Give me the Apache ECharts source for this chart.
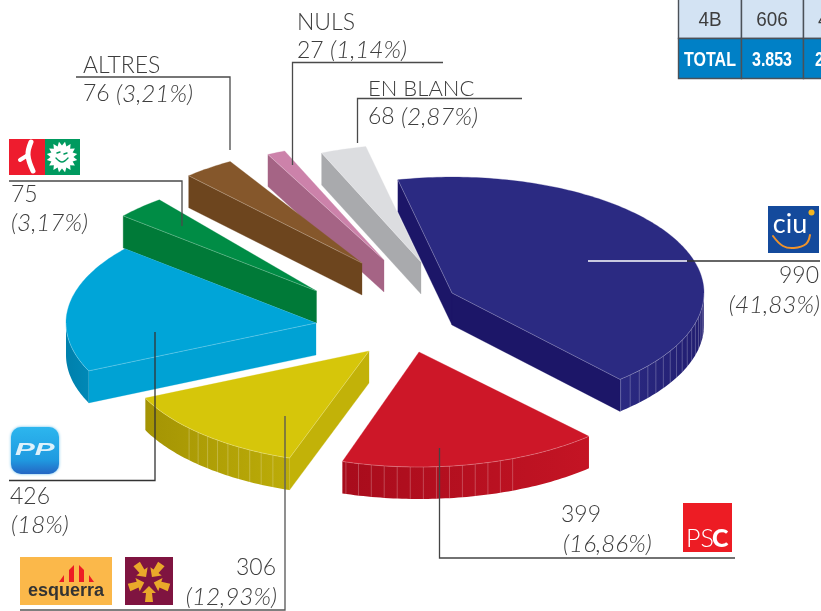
<!DOCTYPE html>
<html>
<head>
<meta charset="utf-8">
<style>
    html, body { margin: 0; padding: 0; background: #fff; overflow: hidden; }
    #chart { width: 821px; height: 611px; }
</style>
<script src="https://cdn.jsdelivr.net/npm/echarts@6/dist/echarts.min.js"></script>
</head>
<body>
<div id="chart"></div>
<script>
// data, clockwise from the CiU slice
const parties = ['CiU', 'PSC', 'ERC', 'PP', 'ICV', 'ALTRES', 'NULS', 'EN BLANC']
const votes = [990, 399, 306, 426, 75, 76, 27, 68]
const percents = ['41,83%', '16,86%', '12,93%', '18%', '3,17%', '3,21%', '1,14%', '2,87%']
const tableFirstRow = ['4B', '606', '4']
const tableTotalRow = ['TOTAL', '3.853', '2.367']

// colours per slice
const topColors = ['#2b2a82', '#cd1728', '#d6c60a', '#00a5d8', '#008c45', '#85572b', '#cc82aa', '#dcdde0']
const cutColors = ['#1c1668', '#b01020', '#c2b208', '#00a2d4', '#007a38', '#6d451e', '#a56485', '#a9aaad']
const rimFrom = ['#2b2a82', '#a80c1c', '#a49404', '#0080ac', '#007a38', '#6d451e', '#a56485', '#a9aaad']
const rimTo = ['#211d70', '#c41424', '#bcac08', '#0088b6', '#007a38', '#6d451e', '#a56485', '#a9aaad']

// pie geometry
const pieCenter = [400, 310]
const tilt = 0.46
const depth = 32
const startAngle = -12.4
const radii = [252, 250, 246, 250, 253, 257, 257, 257]
const explodeX = [52, 19, -31, -84, -83.5, -38, -16, 21]
const explodeY = [-17, 42, 41, 13, -19, -47, -50, -48]
const angleNudge = [0, -1, 0, 0, 0, -4, 0, 0]
const ribFrom = [90, 158, 200, 0, 0, 0, 0, 0]
const ribTo = [139, 200, 229, 0, 0, 0, 0, 0]
const drawOrder = [6, 7, 0, 5, 4, 3, 2, 1]

const total = votes.reduce((a, b) => a + b, 0)
const rad = d => d * Math.PI / 180

function sliceAngles(i) {
    const before = votes.slice(0, i).reduce((a, b) => a + b, 0)
    return {
        from: startAngle + before / total * 360 + angleNudge[i],
        to: startAngle + (before + votes[i]) / total * 360 + angleNudge[i]
    }
}

function arcPoint(apex, r, deg, drop) {
    return [apex[0] + Math.sin(rad(deg)) * r, apex[1] - Math.cos(rad(deg)) * r * tilt + (drop || 0)]
}

function arcPoints(apex, r, from, to, drop) {
    const n = Math.max(2, Math.ceil(Math.abs(to - from)))
    return Array.from({ length: n + 1 }, (item, k) => arcPoint(apex, r, from + (to - from) * k / n, drop))
}

const edgeLine = { stroke: 'rgba(255,255,255,0.35)', lineWidth: 0.7, fill: null }

function renderSlice(params, api) {
    const i = drawOrder[params.dataIndex]
    const { from, to } = sliceAngles(i)
    const r = radii[i]
    const apex = [pieCenter[0] + explodeX[i], pieCenter[1] + explodeY[i]]
    const low = [apex[0], apex[1] + depth]
    const children = []
    const poly = (points, fill) => children.push({
        type: 'polygon',
        shape: { points },
        style: { fill, stroke: fill === Object(fill) ? null : fill, lineWidth: 0.3 }
    })
    const line = points => children.push({ type: 'polyline', shape: { points }, style: edgeLine })

    // cut faces that look towards the viewer
    const cut = deg => {
        const a = arcPoint(apex, r, deg)
        poly([apex, a, [a[0], a[1] + depth], low], cutColors[i])
    }
    if (Math.sin(rad(from)) < 0) cut(from)
    if (Math.sin(rad(to)) > 0) cut(to)

    // outer rim, only where it faces front
    const rimA = Math.max(from, 90)
    const rimB = Math.min(to, 270)
    if (rimA < rimB) {
        const upper = arcPoints(apex, r, rimA, rimB)
        const lower = arcPoints(apex, r, rimA, rimB, depth).reverse()
        poly(upper.concat(lower), {
            type: 'linear', x: 1, y: 0, x2: 0, y2: 0,
            colorStops: [{ offset: 0, color: rimTo[i] }, { offset: 1, color: rimFrom[i] }]
        })
        for (let d = ribFrom[i]; d < ribTo[i]; d += 3) {
            if (d > rimA && d < rimB) {
                children.push({
                    type: 'line',
                    shape: {
                        x1: arcPoint(apex, r, d)[0], y1: arcPoint(apex, r, d)[1],
                        x2: arcPoint(apex, r, d)[0], y2: arcPoint(apex, r, d, depth)[1]
                    },
                    style: { stroke: 'rgba(255,255,255,0.3)', lineWidth: 0.8 }
                })
            }
        }
    }

    // top face
    poly([apex].concat(arcPoints(apex, r, from, to)), topColors[i])
    if (rimA < rimB) line(arcPoints(apex, r, rimA, rimB))
    if (Math.sin(rad(from)) < 0) line([apex, arcPoint(apex, r, from)])
    if (Math.sin(rad(to)) > 0) line([apex, arcPoint(apex, r, to)])

    return { type: 'group', children }
}

// --- graphic helpers ---
const ink = '#3d3d3d'
const font = 'Lato, "Open Sans", sans-serif'
const narrow = '"Liberation Sans", sans-serif'

function text(x, y, str, opt) {
    const o = opt || {}
    const size = o.size || (o.italic ? 24.3 : 23)
    return {
        type: 'text',
        x, y,
        z: 20,
        scaleX: o.scaleX || 1,
        style: {
            text: str,
            fill: o.fill || ink,
            font: `${o.italic ? 'italic ' : ''}${o.weight || 300} ${size}px ${o.family || font}`,
            align: o.align || 'left',
            verticalAlign: 'middle'
        }
    }
}

function rule(points, color) {
    return {
        type: 'polyline',
        z: 15,
        shape: { points },
        style: { stroke: color || '#4a4a4a', lineWidth: 1.3, fill: null }
    }
}

function box(x, y, width, height, fill, stroke, r) {
    return {
        type: 'rect',
        z: 12,
        shape: { x, y, width, height, r: r || 0 },
        style: { fill, stroke: stroke || null, lineWidth: 1.4 }
    }
}

function shape(points, fill) {
    return { type: 'polygon', z: 13, shape: { points }, style: { fill } }
}

function stroke(points, color, width) {
    return {
        type: 'polyline',
        z: 13,
        shape: { points, smooth: 0.4 },
        style: { stroke: color, lineWidth: width, fill: null, lineCap: 'round' }
    }
}

function sunLogo(cx, cy) {
    const pts = []
    for (let k = 0; k < 32; k++) {
        const r = k % 2 ? 15.5 : 11.5
        pts.push([cx + Math.cos(k * Math.PI / 16) * r, cy + Math.sin(k * Math.PI / 16) * r])
    }
    return [
        shape(pts, '#fff'),
        stroke([[cx - 6, cy + 1], [cx, cy + 5], [cx + 6, cy + 1]], '#009a5f', 1.4),
        stroke([[cx - 5, cy - 4], [cx - 2, cy - 5]], '#009a5f', 1.4),
        stroke([[cx + 2, cy - 3], [cx + 5, cy - 4]], '#009a5f', 1.4)
    ]
}

function starLogo(cx, cy) {
    // five little arrows around the middle of the square
    const out = []
    const turns = [-36, 36, 108, 180, 252]
    turns.forEach(deg => {
        const a = rad(deg)
        const at = (along, side) => [
            cx + Math.sin(a) * along + Math.cos(a) * side,
            cy - Math.cos(a) * along + Math.sin(a) * side
        ]
        out.push(shape([
            at(5, 0), at(12, -7), at(12, -3), at(21, -4), at(21, 4), at(12, 3), at(12, 7)
        ], '#e9a82a'))
    })
    return out
}

function tableCells() {
    const xs = [678.5, 741.5, 803.5, 866]
    const out = []
    xs.slice(0, 3).forEach((x, c) => {
        const w = xs[c + 1] - x
        out.push(box(x, -2, w, 40.5, '#d3e3f3', '#4b5158'))
        out.push(box(x, 38.5, w, 40, '#0080c6', '#4b5158'))
    })
    const mids = [710, 772, 835]
    tableFirstRow.forEach((t, c) => {
        const left = c === 2
        out.push(text(left ? 818 : mids[c], 20.5, t, {
            align: left ? 'left' : 'center', size: 21, family: narrow, weight: 400, scaleX: 0.9
        }))
    })
    tableTotalRow.forEach((t, c) => {
        out.push(text(mids[c], 60, t, {
            align: 'center', size: 20, family: narrow, weight: 700, fill: '#fff', scaleX: 0.8
        }))
    })
    return out
}

// index by party so the labels stay tied to the arrays
const at = name => parties.indexOf(name)
const amount = name => String(votes[at(name)])
const share = name => `(${percents[at(name)]})`

const elements = [
    ...tableCells(),

    // NULS
    text(297, 23, parties[at('NULS')]),
    text(297, 50.5, amount('NULS')),
    text(330, 50.5, share('NULS'), { italic: true }),
    rule([[443, 62.5], [292.5, 62.5], [292.5, 165]]),

    // EN BLANC
    text(368, 88.5, parties[at('EN BLANC')], { size: 22 }),
    text(368, 117, amount('EN BLANC')),
    text(401, 117, share('EN BLANC'), { italic: true }),
    rule([[522, 98.5], [357.5, 98.5], [357.5, 143]]),

    // ALTRES
    text(83, 66, parties[at('ALTRES')]),
    text(83, 94, amount('ALTRES')),
    text(116, 94, share('ALTRES'), { italic: true }),
    rule([[76, 77], [230, 77], [230, 150]]),

    // ICV
    box(9, 139, 36, 36, '#ee1c2e'),
    box(45, 139, 35, 36, '#009a5f'),
    stroke([[31, 142], [28, 155], [33, 171]], '#fff', 5),
    stroke([[28, 155], [20, 160]], '#fff', 4),
    ...sunLogo(62, 157),
    rule([[9, 181], [182, 181], [182, 226]]),
    text(11, 195, amount('ICV')),
    text(11, 223, share('ICV'), { italic: true }),

    // PP
    {
        type: 'rect',
        z: 12,
        shape: { x: 11, y: 427, width: 48, height: 47, r: 10 },
        style: {
            fill: {
                type: 'linear', x: 0, y: 0, x2: 0, y2: 1,
                colorStops: [{ offset: 0, color: '#2db6ee' }, { offset: 0.7, color: '#1f9ae0' }, { offset: 1, color: '#2466c4' }]
            },
            shadowBlur: 3,
            shadowColor: '#5cbcea'
        }
    },
    text(15, 450, 'PP', { size: 17, weight: 900, italic: true, fill: 'rgba(255,255,255,0.85)', family: narrow, scaleX: 1.75 }),
    rule([[155, 332], [155, 480.5], [9, 480.5]], '#333'),
    text(10, 497, amount('PP')),
    text(11, 525, share('PP'), { italic: true }),

    // ERC
    box(20, 557, 92, 48, '#fbb84a'),
    shape([[59, 582], [64, 582], [64, 575]], '#ed1c24'),
    shape([[69, 582], [74, 582], [74, 565], [69, 570]], '#ed1c24'),
    shape([[79, 582], [84, 582], [84, 570], [79, 565]], '#ed1c24'),
    shape([[89, 582], [94, 582], [89, 575]], '#ed1c24'),
    text(66, 591, 'esquerra', { align: 'center', size: 18, weight: 700, fill: '#333', family: narrow }),
    box(125, 557, 48, 48, '#7f1440'),
    ...starLogo(149, 581),
    text(276, 568, amount('ERC'), { align: 'right' }),
    text(277, 597, share('ERC'), { align: 'right', italic: true }),
    rule([[20, 610], [285, 610], [285, 416]], '#555'),

    // PSC
    box(683, 503, 49, 49, '#ed1c24'),
    text(686, 539, 'PS', { size: 25, fill: '#fff' }),
    text(712, 539, 'C', { size: 25, weight: 900, fill: '#fff' }),
    text(561, 515, amount('PSC')),
    text(563, 544, share('PSC'), { italic: true }),
    rule([[439.5, 448], [439.5, 558], [735, 558]], '#444'),

    // CiU
    box(768, 206, 51, 47, '#144a9c'),
    text(790, 224, 'ciu', { align: 'center', size: 27, weight: 400, fill: '#fff' }),
    stroke([[773, 236], [783, 246], [794, 248], [806, 244], [810, 235]], '#f0932b', 2),
    {
        type: 'circle',
        z: 13,
        shape: { cx: 811.5, cy: 212.5, r: 3 },
        style: { fill: '#f3b521' }
    },
    text(819, 276, amount('CiU'), { align: 'right' }),
    text(820, 305, share('CiU'), { align: 'right', italic: true }),
    rule([[588, 261], [687, 261]], '#fff'),
    rule([[687, 261], [820, 261]], '#333')
]

const chart = echarts.init(document.getElementById('chart'))
chart.setOption({
    animation: false,
    backgroundColor: '#fff',
    series: [{
        type: 'custom',
        coordinateSystem: 'none',
        silent: true,
        renderItem: renderSlice,
        data: drawOrder.map(i => votes[i])
    }],
    graphic: { elements }
})
</script>
</body>
</html>
